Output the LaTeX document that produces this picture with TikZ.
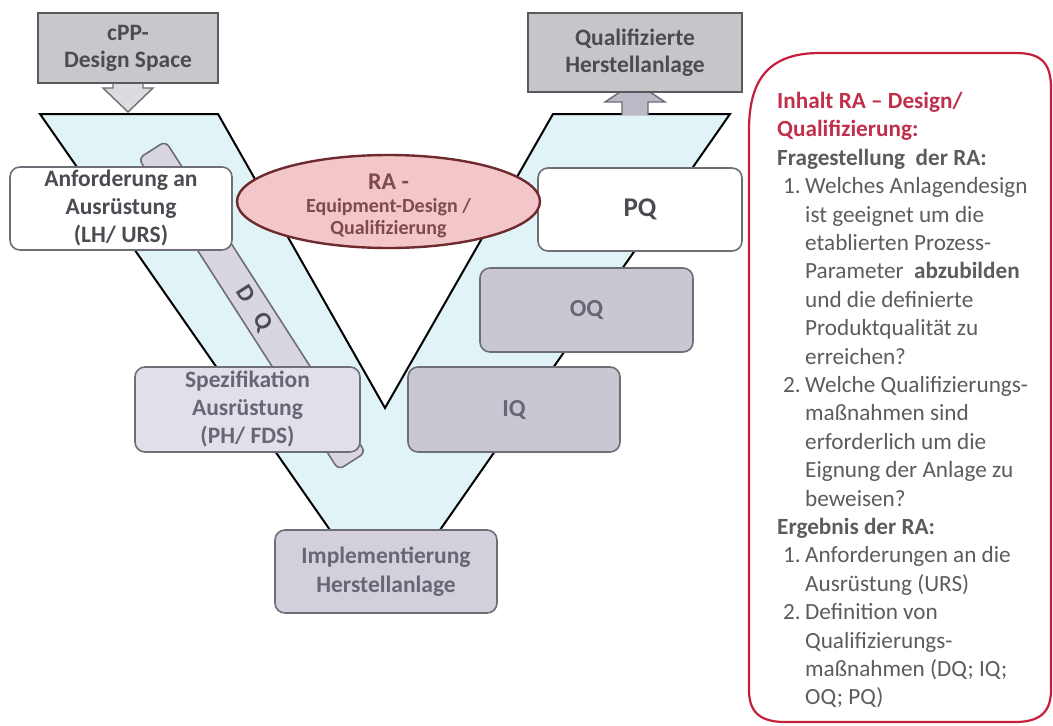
\documentclass[tikz,border=0pt]{standalone}
\usepackage{fontspec}
\setmainfont{Carlito}
\usetikzlibrary{shapes.geometric}
\definecolor{vfill}{HTML}{E0F3F7}
\definecolor{boxline}{HTML}{6E6E76}
\definecolor{cppfill}{HTML}{C8C8CC}
\definecolor{cppline}{HTML}{5A5A5E}
\definecolor{qualfill}{HTML}{C6C6CA}
\definecolor{downfill}{HTML}{DCDCE0}
\definecolor{upfill}{HTML}{BDB9C6}
\definecolor{dqfill}{HTML}{D9D5E1}
\definecolor{spezfill}{HTML}{E3DFEA}
\definecolor{oqfill}{HTML}{C9C7D2}
\definecolor{implfill}{HTML}{D3CFDB}
\definecolor{ellfill}{HTML}{F3C6CA}
\definecolor{ellline}{HTML}{6E2B2E}
\definecolor{elltext}{HTML}{7E4A50}
\definecolor{panelred}{HTML}{C51F3D}
\definecolor{headred}{HTML}{C0304B}
\definecolor{paneltext}{HTML}{5C5C5C}
\definecolor{boxtext}{HTML}{4B4B52}
\definecolor{lighttext}{HTML}{686674}
\newcommand{\PanNum}[1]{\hspace*{6pt}\makebox[22pt][l]{#1}}
\newcommand{\PanInd}{\hspace*{28pt}}
\begin{document}
\begin{tikzpicture}[x=1pt,y=-1pt,
  box/.style={draw=boxline, line width=1.6pt, rounded corners=10pt, inner sep=0pt,
    align=center, text=boxtext, font=\bfseries\fontsize{23.5}{28}\selectfont},
  topbox/.style={draw=cppline, line width=1.6pt, inner sep=0pt,
    align=center, text=boxtext, font=\bfseries\fontsize{23.5}{27}\selectfont},
  blockarrow/.style={draw=boxline, line width=1.4pt, line join=miter}]
\useasboundingbox[fill=white] (0,0) rectangle (1053,726);

% V shape
\draw[fill=vfill, line width=2pt, line join=miter]
  (40,114) -- (218,114) -- (385,408) -- (553,114) -- (730,114) -- (440,530) -- (330,530) -- cycle;

% DQ bar
\node[draw=boxline, fill=dqfill, line width=1.6pt, rounded corners=6pt,
  minimum width=370pt, minimum height=32pt, rotate=-57.3, inner sep=0pt,
  font=\bfseries\fontsize{24}{24}\selectfont, text=boxtext] (dq) at (252,305.5)
  {\hspace{7pt}D\hspace{17pt}Q};

% block arrows
\draw[blockarrow, fill=downfill] (113,83) -- (113,88) -- (103,88) -- (128,112) -- (153,88) -- (143,88) -- (143,83);
\draw[blockarrow, fill=upfill] (622,115) -- (622,102) -- (605,102) -- (635,82) -- (665,102) -- (648,102) -- (648,115);

% top boxes
\node[topbox, fill=cppfill, minimum width=180pt, minimum height=70pt] (cpp) at (128,48) {cPP-\\Design Space};
\node[topbox, fill=qualfill, minimum width=214pt, minimum height=79pt] (qual) at (635,52.5) {Qualifizierte\\Herstellanlage};

% V boxes
\node[box, fill=white, minimum width=222pt, minimum height=83pt] (urs) at (121,208.5) {Anforderung an\\Ausrüstung\\(LH/ URS)};
\node[box, fill=white, minimum width=204pt, minimum height=83pt, font=\bfseries\fontsize{27}{28}\selectfont] (pq) at (640,209.5) {PQ};
\node[box, fill=oqfill, text=lighttext, minimum width=213pt, minimum height=84pt, font=\bfseries\fontsize{24.5}{28}\selectfont] (oq) at (586.5,310) {OQ};
\node[box, fill=oqfill, text=lighttext, minimum width=212pt, minimum height=85pt, font=\bfseries\fontsize{24.5}{28}\selectfont] (iq) at (514,409.5) {IQ};
\node[box, fill=spezfill, text=lighttext, minimum width=225pt, minimum height=85pt] (spez) at (247.5,409.5) {Spezifikation\\Ausrüstung\\(PH/ FDS)};
\node[box, fill=implfill, text=lighttext, minimum width=222pt, minimum height=83pt, font=\bfseries\fontsize{23.5}{29}\selectfont] (impl) at (386,571.5) {Implementierung\\Herstellanlage};

% RA ellipse
\node[ellipse, draw=ellline, fill=ellfill, line width=2.4pt, inner sep=0pt,
  minimum width=303pt, minimum height=93pt] (ra) at (388.5,201.5) {};
\node[align=center, text=elltext, inner sep=0pt, font=\bfseries\fontsize{20}{22.5}\selectfont] (ratext) at (388.5,206)
  {{\fontsize{24}{22.5}\selectfont RA -}\\
   Equipment-Design /\\
   Qualifizierung};

% right panel
\draw[panelred, line width=2.2pt]
  (749,130) .. controls (749,78) and (770,53) .. (820,53) -- (1016,53)
  .. controls (1040,53) and (1051,62) .. (1051,88) -- (1051,690)
  .. controls (1051,712) and (1040,722) .. (1015,722) -- (785,722)
  .. controls (760,722) and (749,712) .. (749,690) -- cycle;

\node[anchor=north west, inner sep=0pt, align=left, text=paneltext,
  font=\fontsize{23.2}{28.4}\selectfont] (paneltxt) at (777,92) {%
{\color{headred}\bfseries Inhalt RA – Design/}\\
{\color{headred}\bfseries Qualifizierung:}\\
\textbf{Fragestellung\ \ der RA:}\\
\PanNum{1.}Welches Anlagendesign\\
\PanInd ist geeignet um die\\
\PanInd etablierten Prozess-\\
\PanInd Parameter\ \ \textbf{abzubilden}\\
\PanInd und die definierte\\
\PanInd Produktqualität zu\\
\PanInd erreichen?\\
\PanNum{2.}Welche Qualifizierungs-\\
\PanInd maßnahmen sind\\
\PanInd erforderlich um die\\
\PanInd Eignung der Anlage zu\\
\PanInd beweisen?\\
\textbf{Ergebnis der RA:}\\
\PanNum{1.}Anforderungen an die\\
\PanInd Ausrüstung (URS)\\
\PanNum{2.}Definition von\\
\PanInd Qualifizierungs-\\
\PanInd maßnahmen (DQ; IQ;\\
\PanInd OQ; PQ)};
\end{tikzpicture}
\end{document}
